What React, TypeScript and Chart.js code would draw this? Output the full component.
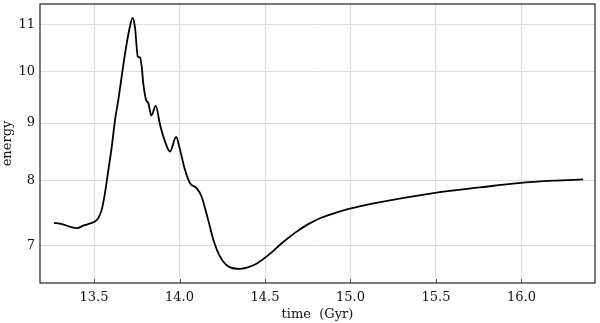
import React, { useEffect, useRef } from "react";
import { Chart, registerables } from "chart.js";

Chart.register(...registerables);

const times: number[] = [
  13.266, 13.313, 13.36, 13.40, 13.44, 13.477, 13.505, 13.525, 13.545, 13.564,
  13.584, 13.604, 13.623, 13.645, 13.667, 13.688, 13.708, 13.726, 13.740, 13.756,
  13.769, 13.779, 13.788, 13.804, 13.818, 13.835, 13.861, 13.886, 13.915, 13.944,
  13.980, 14.003, 14.032, 14.061, 14.10, 14.128, 14.168, 14.198, 14.237,
  14.296, 14.354, 14.412, 14.45, 14.519, 14.598, 14.675, 14.753, 14.832, 14.912,
  14.99, 15.143, 15.485, 15.757, 15.981, 16.186, 16.361,
];

const energy: number[] = [
  7.34, 7.32, 7.28, 7.26, 7.30, 7.33, 7.36, 7.41, 7.54, 7.80,
  8.18, 8.58, 9.06, 9.50, 10.03, 10.52, 10.93, 11.16, 10.93, 10.31,
  10.29, 10.10, 9.76, 9.44, 9.37, 9.14, 9.32, 8.97, 8.67, 8.49,
  8.75, 8.52, 8.18, 7.96, 7.88, 7.75, 7.38, 7.09, 6.85,
  6.70, 6.68, 6.71, 6.75, 6.87, 7.04, 7.19, 7.32, 7.42, 7.49,
  7.55, 7.64, 7.80, 7.89, 7.96, 8.00, 8.02,
];

const xTicks: number[] = [13.5, 14.0, 14.5, 15.0, 15.5, 16.0];
const yTicks: number[] = [7, 8, 9, 10, 11];

const FONT = "'DejaVu Serif', serif";

const framePlugin = {
  id: "frame",
  afterDraw(chart: any) {
    const { ctx, chartArea } = chart;
    const { left, right, top, bottom } = chartArea;
    ctx.save();
    ctx.strokeStyle = "#555";
    ctx.lineWidth = 1;
    const xs = chart.scales.x;
    xTicks.forEach((t) => {
      const px = Math.round(xs.getPixelForValue(t)) + 0.5;
      ctx.beginPath();
      ctx.moveTo(px, bottom);
      ctx.lineTo(px, bottom - 4);
      ctx.stroke();
    });
    ctx.strokeStyle = "#222";
    ctx.lineWidth = 1.2;
    ctx.strokeRect(left, top, right - left, bottom - top);
    ctx.restore();
  },
};

export default function App() {
  const ref = useRef<HTMLCanvasElement>(null);
  useEffect(() => {
    if (!ref.current) return;
    const chart = new Chart(ref.current, {
      type: "line",
      data: {
        datasets: [
          {
            data: times.map((t, i) => ({ x: t, y: energy[i] })),
            borderColor: "#000",
            borderWidth: 1.8,
            pointRadius: 0,
            fill: false,
            cubicInterpolationMode: "monotone",
          },
        ],
      },
      options: {
        animation: false,
        responsive: false,
        layout: { padding: { top: 4, right: 5, left: 0, bottom: 0 } },
        plugins: { legend: { display: false }, tooltip: { enabled: false } },
        scales: {
          x: {
            type: "linear",
            min: 13.184,
            max: 16.43,
            afterBuildTicks: (s: any) => {
              s.ticks = xTicks.map((v) => ({ value: v }));
            },
            afterFit: (s: any) => {
              s.height = 40;
              s.paddingLeft = 0;
              s.paddingRight = 0;
            },
            border: { display: false },
            grid: { color: "#dcdcdc", lineWidth: 1, drawTicks: false },
            ticks: {
              padding: 7,
              color: "#111",
              font: { family: FONT, size: 13 },
              callback: (v: any) => Number(v).toFixed(1),
            },
            title: {
              display: true,
              text: "time  (Gyr)",
              color: "#111",
              font: { family: FONT, size: 13 },
              padding: { top: 0, bottom: 1 },
            },
          },
          y: {
            type: "logarithmic",
            min: 6.49,
            max: 11.48,
            afterBuildTicks: (s: any) => {
              s.ticks = yTicks.map((v) => ({ value: v }));
            },
            afterFit: (s: any) => {
              s.width = 40;
              s.paddingTop = 0;
              s.paddingBottom = 0;
            },
            border: { display: false },
            grid: { color: "#dcdcdc", lineWidth: 1, drawTicks: false },
            ticks: {
              padding: 5,
              color: "#111",
              font: { family: FONT, size: 13 },
              callback: (v: any) => String(v),
            },
            title: {
              display: true,
              text: "energy",
              color: "#111",
              font: { family: FONT, size: 13 },
              padding: { top: 0, bottom: 0 },
            },
          },
        },
      },
      plugins: [framePlugin],
    } as any);
    return () => chart.destroy();
  }, []);
  return (
    <div style={{ position: "fixed", left: 0, top: 0, width: 600, height: 323, background: "#fff" }}>
      <canvas ref={ref} width={600} height={323} />
    </div>
  );
}
